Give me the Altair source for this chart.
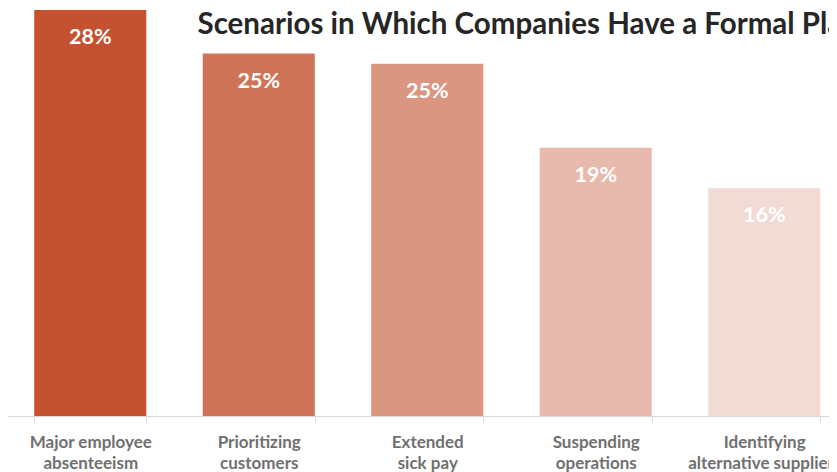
import altair as alt
import pandas as pd

categories = ["Major employee|absenteeism", "Prioritizing|customers", "Extended|sick pay",
              "Suspending|operations", "Identifying|alternative suppliers"]
values = [28, 25, 24.3, 18.5, 15.7]
labels = ["28%", "25%", "25%", "19%", "16%"]
colors = ["#C45130", "#D07459", "#DB9682", "#E8B9AD", "#F2DBD5"]
title_text = "Scenarios in Which Companies Have a Formal Plan"

df = pd.DataFrame({"category": categories, "value": values, "label": labels})

FONT = "Lato"

x = alt.X(
    "category:N",
    sort=categories,
    title=None,
    scale=alt.Scale(paddingInner=0.335, paddingOuter=0.1675),
    axis=alt.Axis(
        labelExpr="split(datum.label, '|')",
        labelAngle=0,
        labelFont=FONT,
        labelFontSize=17,
        labelFontWeight="bold",
        labelColor="#707070",
        labelBaseline="alphabetic",
        labelPadding=25,
        labelLineHeight=21,
        labelOverlap=False,
        labelLimit=300,
        tickBand="extent",
        tickSize=6,
        tickColor="#D9D9D9",
        domainColor="#D9D9D9",
        grid=False,
    ),
)
y = alt.Y(
    "value:Q",
    scale=alt.Scale(domain=[0, 28], nice=False, zero=True),
    title=title_text,
    axis=alt.Axis(
        domain=False, ticks=False, labels=False, grid=False,
        titleAngle=0, titleAlign="left", titleBaseline="alphabetic",
        titleX=191, titleY=23,
        titleFont=FONT, titleFontSize=29.5, titleFontWeight="bold", titleColor="#262626",
        titleLimit=1000,
    ),
)

bars = alt.Chart(df).mark_bar().encode(
    x=x,
    y=y,
    color=alt.Color("category:N", sort=categories,
                    scale=alt.Scale(domain=categories, range=colors), legend=None),
)

text = alt.Chart(df).mark_text(
    baseline="alphabetic", dy=34, font=FONT, fontSize=21.5, fontWeight="bold", color="white"
).encode(x=x, y=alt.Y("value:Q"), text="label:N")

chart = (
    alt.layer(bars, text)
    .properties(
        width=842.5,
        height=406,
        autosize=alt.AutoSizeParams(type="none"),
        padding={"left": -2, "right": -19.5, "top": 2, "bottom": 56},
    )
    .configure_view(stroke=None)
)

chart.save("out.html", embed_options={"renderer": "svg", "actions": False})
